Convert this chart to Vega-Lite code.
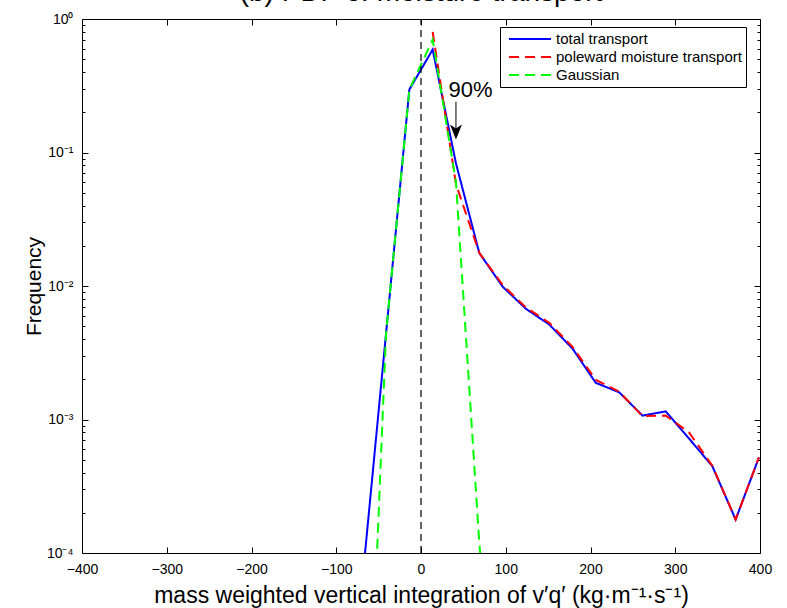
{
  "$schema": "https://vega.github.io/schema/vega-lite/v6.json",
  "width": 678,
  "height": 534,
  "autosize": {"type": "none"},
  "padding": {"left": 82, "top": 19, "right": 27, "bottom": 55},
  "background": "white",
  "config": {
    "view": {"stroke": "black", "strokeWidth": 1},
    "font": "Liberation Sans",
    "axis": {"grid": false, "domain": false}
  },
  "title": {
    "text": "(b) PDF of moisture transport",
    "font": "Liberation Sans",
    "fontSize": 28,
    "fontWeight": "normal",
    "color": "black",
    "anchor": "middle",
    "frame": "group",
    "baseline": "alphabetic",
    "offset": -17
  },
  "datasets": {
    "pdf": [
      {"series": "total transport", "x": -68.75, "y": 0.000066},
      {"series": "total transport", "x": -41.25, "y": 0.0044},
      {"series": "total transport", "x": -13.75, "y": 0.296},
      {"series": "total transport", "x": 13.75, "y": 0.59},
      {"series": "total transport", "x": 41.25, "y": 0.083},
      {"series": "total transport", "x": 68.75, "y": 0.0177},
      {"series": "total transport", "x": 96.25, "y": 0.0099},
      {"series": "total transport", "x": 123.75, "y": 0.00675},
      {"series": "total transport", "x": 151.25, "y": 0.00515},
      {"series": "total transport", "x": 178.75, "y": 0.0034},
      {"series": "total transport", "x": 206.25, "y": 0.00188},
      {"series": "total transport", "x": 233.75, "y": 0.0016},
      {"series": "total transport", "x": 261.25, "y": 0.00107},
      {"series": "total transport", "x": 288.75, "y": 0.00115},
      {"series": "total transport", "x": 316.25, "y": 0.00072},
      {"series": "total transport", "x": 343.75, "y": 0.000447},
      {"series": "total transport", "x": 371.25, "y": 0.000178},
      {"series": "total transport", "x": 398.75, "y": 0.00052},
      {"series": "poleward moisture transport", "x": 13.75, "y": 0.8},
      {"series": "poleward moisture transport", "x": 41.25, "y": 0.058},
      {"series": "poleward moisture transport", "x": 68.75, "y": 0.0177},
      {"series": "poleward moisture transport", "x": 96.25, "y": 0.0102},
      {"series": "poleward moisture transport", "x": 123.75, "y": 0.0069},
      {"series": "poleward moisture transport", "x": 151.25, "y": 0.0053},
      {"series": "poleward moisture transport", "x": 178.75, "y": 0.0035},
      {"series": "poleward moisture transport", "x": 206.25, "y": 0.00198},
      {"series": "poleward moisture transport", "x": 233.75, "y": 0.00162},
      {"series": "poleward moisture transport", "x": 261.25, "y": 0.00106},
      {"series": "poleward moisture transport", "x": 288.75, "y": 0.00107},
      {"series": "poleward moisture transport", "x": 316.25, "y": 0.0008},
      {"series": "poleward moisture transport", "x": 343.75, "y": 0.00045},
      {"series": "poleward moisture transport", "x": 371.25, "y": 0.000178},
      {"series": "poleward moisture transport", "x": 398.75, "y": 0.00052},
      {"series": "Gaussian", "x": -68.75, "y": 0.00000025},
      {"series": "Gaussian", "x": -41.25, "y": 0.0044},
      {"series": "Gaussian", "x": -13.75, "y": 0.296},
      {"series": "Gaussian", "x": 13.75, "y": 0.7},
      {"series": "Gaussian", "x": 41.25, "y": 0.06},
      {"series": "Gaussian", "x": 68.75, "y": 0.00012},
      {"series": "Gaussian", "x": 96.25, "y": 0.000001}
    ],
    "zero": [{"x": 0, "y": 0.0001, "y2": 1}],
    "arrow": [{"x": 41.25, "y": 0.24, "y2": 0.141}],
    "head": [{"x": 41.25, "y": 0.1486}],
    "note": [{"x": 58.4, "y": 0.296, "label": "90%"}]
  },
  "layer": [
    {
      "data": {"name": "pdf"},
      "mark": {"type": "line", "clip": true, "strokeWidth": 2},
      "encoding": {
        "x": {
          "field": "x",
          "type": "quantitative",
          "scale": {"domain": [-400, 400], "nice": false, "zero": false},
          "axis": {
            "orient": "bottom",
            "values": [-400, -300, -200, -100, 0, 100, 200, 300, 400],
            "ticks": false,
            "labelPadding": 9,
            "labelFontSize": 14,
            "labelColor": "black",
            "labelFlush": false,
            "title": "mass weighted vertical integration of v′q′ (kg·m⁻¹·s⁻¹)",
            "titleFontSize": 23,
            "titleFontWeight": "normal",
            "titleColor": "black",
            "titlePadding": 8
          }
        },
        "y": {
          "field": "y",
          "type": "quantitative",
          "scale": {"type": "log", "domain": [0.0001, 1], "nice": false},
          "axis": {
            "orient": "left",
            "values": [0.0001, 0.001, 0.01, 0.1, 1],
            "labelExpr": "'10' + (datum.value >= 0.99 ? '⁰' : datum.value >= 0.099 ? '⁻¹' : datum.value >= 0.0099 ? '⁻²' : datum.value >= 0.00099 ? '⁻³' : '⁻⁴')",
            "ticks": false,
            "labelPadding": 9,
            "labelFontSize": 14,
            "labelColor": "black",
            "labelFlush": false,
            "title": "Frequency",
            "titleFontSize": 21,
            "titleFontWeight": "normal",
            "titleColor": "black",
            "titlePadding": 2
          }
        },
        "color": {
          "field": "series",
          "type": "nominal",
          "scale": {"domain": ["total transport", "poleward moisture transport", "Gaussian"], "range": ["#0000ff", "#ff0000", "#00ff00"]},
          "legend": {"title": null, "orient": "none", "legendX": 418, "legendY": 8, "symbolType": "M-3,0H3", "symbolSize": 196, "symbolStrokeWidth": 2, "labelFontSize": 15, "labelColor": "black", "labelLimit": 400, "padding": 4, "strokeColor": "black", "fillColor": "white", "rowPadding": 2, "symbolOffset": 18, "labelOffset": 18, "cornerRadius": 0}
        },
        "strokeDash": {
          "field": "series",
          "type": "nominal",
          "scale": {"domain": ["total transport", "poleward moisture transport", "Gaussian"], "range": [[1, 0], [10, 6], [10, 6]]},
          "legend": {"title": null, "orient": "none", "legendX": 418, "legendY": 8, "symbolType": "M-3,0H3", "symbolSize": 196, "symbolStrokeWidth": 2, "labelFontSize": 15, "labelColor": "black", "labelLimit": 400, "padding": 4, "strokeColor": "black", "fillColor": "white", "rowPadding": 2, "symbolOffset": 18, "labelOffset": 18, "cornerRadius": 0}
        }
      }
    },
    {
      "data": {"name": "zero"},
      "mark": {"type": "rule", "color": "black", "strokeWidth": 1.2, "strokeDash": [7, 5]},
      "encoding": {
        "x": {
          "field": "x",
          "type": "quantitative",
          "axis": {"orient": "bottom", "values": [-300, -200, -100, 0, 100, 200, 300], "labels": false, "ticks": true, "tickSize": 6, "offset": -6, "tickColor": "black", "tickWidth": 1, "title": null}
        },
        "y": {
          "field": "y",
          "type": "quantitative",
          "axis": {"orient": "left", "values": [0.0001, 0.001, 0.01, 0.1, 1], "labels": false, "ticks": true, "tickSize": 6, "offset": -6, "tickColor": "black", "tickWidth": 1, "title": null}
        },
        "y2": {"field": "y2"}
      }
    },
    {
      "data": {"name": "arrow"},
      "mark": {"type": "rule", "color": "black", "strokeWidth": 1},
      "encoding": {
        "x": {
          "field": "x",
          "type": "quantitative",
          "axis": {"orient": "top", "values": [-300, -200, -100, 0, 100, 200, 300], "labels": false, "ticks": true, "tickSize": 6, "offset": -6, "tickColor": "black", "tickWidth": 1, "title": null}
        },
        "y": {
          "field": "y",
          "type": "quantitative",
          "axis": {
            "orient": "left",
            "values": [0.0002, 0.0003, 0.0004, 0.0005, 0.0006, 0.0007, 0.0008, 0.0009, 0.002, 0.003, 0.004, 0.005, 0.006, 0.007, 0.008, 0.009, 0.02, 0.03, 0.04, 0.05, 0.06, 0.07, 0.08, 0.09, 0.2, 0.3, 0.4, 0.5, 0.6, 0.7, 0.8, 0.9],
            "labels": false, "ticks": true, "tickSize": 3, "offset": -3, "tickColor": "black", "tickWidth": 1, "title": null
          }
        },
        "y2": {"field": "y2"}
      }
    },
    {
      "data": {"name": "head"},
      "mark": {"type": "point", "shape": "M0,1L-0.6,-0.5L0,-0.1L0.6,-0.5Z", "filled": true, "color": "black", "size": 400, "opacity": 1},
      "encoding": {
        "x": {"field": "x", "type": "quantitative", "axis": null},
        "y": {
          "field": "y",
          "type": "quantitative",
          "axis": {"orient": "right", "values": [0.0001, 0.001, 0.01, 0.1, 1], "labels": false, "ticks": true, "tickSize": 6, "offset": -6, "tickColor": "black", "tickWidth": 1, "title": null}
        }
      }
    },
    {
      "data": {"name": "note"},
      "mark": {"type": "text", "fontSize": 22, "align": "center", "baseline": "middle", "color": "black"},
      "encoding": {
        "x": {"field": "x", "type": "quantitative", "axis": null},
        "y": {
          "field": "y",
          "type": "quantitative",
          "axis": {
            "orient": "right",
            "values": [0.0002, 0.0003, 0.0004, 0.0005, 0.0006, 0.0007, 0.0008, 0.0009, 0.002, 0.003, 0.004, 0.005, 0.006, 0.007, 0.008, 0.009, 0.02, 0.03, 0.04, 0.05, 0.06, 0.07, 0.08, 0.09, 0.2, 0.3, 0.4, 0.5, 0.6, 0.7, 0.8, 0.9],
            "labels": false, "ticks": true, "tickSize": 3, "offset": -3, "tickColor": "black", "tickWidth": 1, "title": null
          }
        },
        "text": {"field": "label"}
      }
    }
  ],
  "resolve": {"axis": {"x": "independent", "y": "independent"}}
}
